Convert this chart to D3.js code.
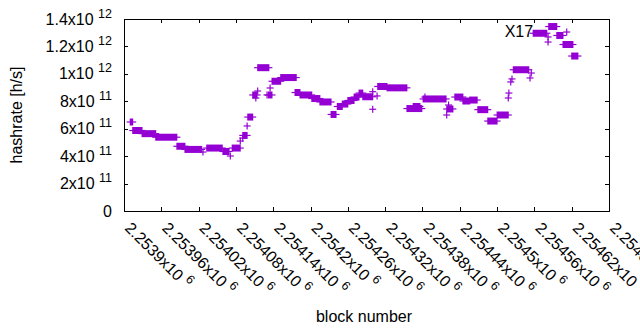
<!DOCTYPE html>
<html>
<head>
<meta charset="utf-8">
<script src="https://cdn.jsdelivr.net/npm/d3@7"></script>
<style>
  html, body { margin: 0; padding: 0; background: #fff; }
  svg { display: block; }
  text { font-family: "Liberation Sans", Arial, sans-serif; fill: #000; }
</style>
</head>
<body>
<svg id="chart" width="640" height="330"></svg>
<script>
// ---- data: runs of consecutive blocks with (nearly) constant hashrate ----
// start block, end block, hashrate (x1e11 h/s). start == end means a single point.
const runStart = [2253910, 2253914, 2253929, 2253951, 2253985, 2253998, 2254027, 2254033, 2254059, 2254071,
  2254074, 2254087, 2254091, 2254091, 2254098, 2254099, 2254107, 2254112, 2254115, 2254115,
  2254130, 2254132, 2254135, 2254138, 2254152, 2254175, 2254183, 2254202, 2254215, 2254233,
  2254243, 2254251, 2254260, 2254270, 2254278, 2254284, 2254300, 2254300, 2254307, 2254308,
  2254323, 2254355, 2254365, 2254381, 2254384, 2254419, 2254422, 2254419, 2254432, 2254445,
  2254456, 2254469, 2254485, 2254500, 2254518, 2254519, 2254522, 2254524, 2254526, 2254553,
  2254555, 2254558, 2254582, 2254582, 2254583, 2254596, 2254612, 2254606, 2254620];
const runEnd = [2253914, 2253929, 2253951, 2253985, 2253998, 2254025, 2254027, 2254058, 2254069, 2254071,
  2254087, 2254087, 2254091, 2254098, 2254098, 2254107, 2254114, 2254112, 2254115, 2254133,
  2254130, 2254138, 2254135, 2254152, 2254177, 2254183, 2254202, 2254215, 2254233, 2254241,
  2254251, 2254260, 2254270, 2254278, 2254284, 2254300, 2254300, 2254300, 2254307, 2254323,
  2254355, 2254379, 2254376, 2254418, 2254384, 2254419, 2254422, 2254429, 2254445, 2254456,
  2254468, 2254485, 2254500, 2254518, 2254518, 2254519, 2254522, 2254524, 2254551, 2254553,
  2254555, 2254580, 2254582, 2254582, 2254596, 2254606, 2254612, 2254622, 2254630];
const runValue = [6.49, 5.87, 5.64, 5.38, 4.72, 4.49, 4.30, 4.59, 4.34, 4.01,
  4.59, 5.10, 5.32, 5.51, 6.20, 6.85, 8.46, 8.24, 8.75, 10.45,
  8.46, 8.46, 8.97, 9.46, 9.73, 8.64, 8.46, 8.20, 7.95, 7.04,
  7.62, 7.80, 8.06, 8.31, 8.60, 8.33, 7.42, 8.70, 8.39, 9.08,
  8.98, 7.47, 7.62, 8.17, 8.31, 7.00, 7.73, 7.44, 8.31, 8.02,
  8.09, 7.39, 6.56, 7.00, 8.24, 8.60, 9.41, 9.63, 10.30, 9.70,
  10.06, 12.96, 12.69, 12.32, 13.45, 12.80, 13.05, 12.14, 11.30];

const xTickValues = [2253900, 2253960, 2254020, 2254080, 2254140, 2254200, 2254260,
  2254320, 2254380, 2254440, 2254500, 2254560, 2254620, 2254680];
const xTickMantissa = ["2.2539", "2.25396", "2.25402", "2.25408", "2.25414", "2.2542", "2.25426",
  "2.25432", "2.25438", "2.25444", "2.2545", "2.25456", "2.25462", "2.25468"];
const xTickExp = "6";
const yTickValues = [0, 2e11, 4e11, 6e11, 8e11, 1e12, 1.2e12, 1.4e12];
const yTickMantissa = ["0", "2", "4", "6", "8", "1", "1.2", "1.4"];
const yTickExp = ["", "11", "11", "11", "11", "12", "12", "12"];
const labelText = "X17";
const labelBlock = 2254558;
const labelValue = 12.96;
const xTitle = "block number";
const yTitle = "hashrate [h/s]";

// ---- layout ----
const svg = d3.select("#chart");
const L = 124, R = 609, T = 19, B = 211;
const x = d3.scaleLinear().domain([2253900, 2254680]).range([L, R]);
const y = d3.scaleLinear().domain([0, 1.4e12]).range([B, T]);
const color = "#9400d3";
const tick = 4;
const arm = 3.5;
const fs = 16, fsSup = 12.5;

// ticks (inward, mirrored)
const g = svg.append("g").attr("stroke", "#000").attr("stroke-width", 1).attr("shape-rendering", "crispEdges");
yTickValues.forEach(v => {
  const yy = Math.round(y(v)) + 0.5;
  g.append("line").attr("x1", L).attr("x2", L + tick).attr("y1", yy).attr("y2", yy);
  g.append("line").attr("x1", R - tick).attr("x2", R).attr("y1", yy).attr("y2", yy);
});
xTickValues.forEach(v => {
  const xx = Math.round(x(v)) + 0.5;
  g.append("line").attr("x1", xx).attr("x2", xx).attr("y1", B).attr("y2", B - tick);
  g.append("line").attr("x1", xx).attr("x2", xx).attr("y1", T).attr("y2", T + tick);
});

// data marks
const data = runStart.map((s, i) => ({ s, e: runEnd[i], v: runValue[i] * 1e11 }));
const mg = svg.append("g");
data.forEach(d => {
  const x1 = x(d.s), x2 = x(d.e), yy = y(d.v);
  if (x2 - x1 > 0.5) {
    mg.append("rect").attr("x", x1 - 0.5).attr("y", yy - arm).attr("width", x2 - x1 + 1).attr("height", 2 * arm)
      .attr("fill", color);
  } else {
    mg.append("line").attr("x1", x1).attr("x2", x1).attr("y1", yy - arm).attr("y2", yy + arm)
      .attr("stroke", color).attr("stroke-width", 1.2);
  }
  mg.append("line").attr("x1", x1 - arm).attr("x2", x2 + arm).attr("y1", yy).attr("y2", yy)
    .attr("stroke", color).attr("stroke-width", 1.2);
});

// frame
svg.append("rect").attr("x", L + 0.5).attr("y", T + 0.5).attr("width", R - L).attr("height", B - T)
  .attr("fill", "none").attr("stroke", "#000").attr("stroke-width", 1).attr("shape-rendering", "crispEdges");

// y tick labels
yTickValues.forEach((v, i) => {
  const t = svg.append("text").attr("x", 112).attr("y", y(v) + 5.5).attr("text-anchor", "end")
    .style("font-size", fs + "px");
  if (yTickExp[i]) {
    t.append("tspan").text(yTickMantissa[i] + "x10 ");
    t.append("tspan").attr("dy", -7).style("font-size", fsSup + "px").text(yTickExp[i]);
  } else {
    t.text(yTickMantissa[i]);
  }
});

// x tick labels, rotated
xTickValues.forEach((v, i) => {
  const t = svg.append("text").attr("transform", `translate(${x(v)},${B + 18}) rotate(45)`)
    .attr("text-anchor", "start").style("font-size", fs + "px");
  t.append("tspan").text(xTickMantissa[i] + "x10 ");
  t.append("tspan").attr("dy", -7).style("font-size", fsSup + "px").text(xTickExp);
});

// axis titles
svg.append("text").attr("transform", `translate(22,${(T + B) / 2}) rotate(-90)`)
  .attr("text-anchor", "middle").style("font-size", fs + "px").text(yTitle);
svg.append("text").attr("x", 364).attr("y", 322).attr("text-anchor", "middle")
  .style("font-size", fs + "px").text(xTitle);

// point label
svg.append("text").attr("x", x(labelBlock)).attr("y", y(labelValue * 1e11) + 4)
  .attr("text-anchor", "end").style("font-size", fs + "px").text(labelText);
</script>
</body>
</html>
